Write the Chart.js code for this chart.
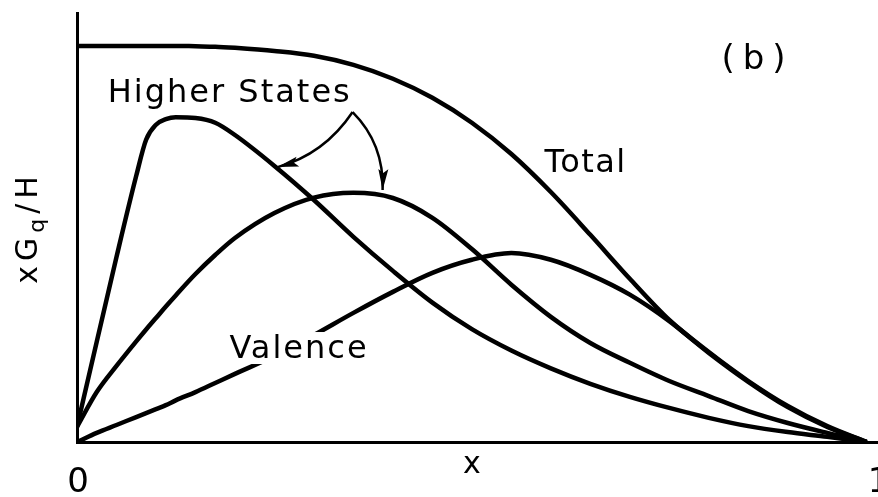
<!DOCTYPE html>
<html>
<head>
<meta charset="utf-8">
<script src="https://cdn.jsdelivr.net/npm/chart.js@4.4.0/dist/chart.umd.min.js"></script>
<style>
  html, body { margin: 0; padding: 0; background: #fff; }
</style>
</head>
<body>
<canvas id="chart_b" width="878" height="497"></canvas>
<script>
// x values shared by all curves (denser where Higher States peaks)
var xs = [0, 0.025, 0.05, 0.075, 0.0875, 0.1, 0.1125, 0.125, 0.15, 0.175, 0.2, 0.25, 0.3, 0.35,
          0.4, 0.45, 0.5, 0.55, 0.6, 0.65, 0.7, 0.75, 0.8, 0.85, 0.9, 0.95, 1.0];

var total    = [1.0, 1.0, 1.0, 1.0, 1.0, 1.0, 1.0, 1.0, 0.999, 0.998, 0.995, 0.987, 0.975, 0.952,
                0.917, 0.869, 0.806, 0.727, 0.631, 0.523, 0.412, 0.308, 0.227, 0.154, 0.091, 0.040, 0];
var higher_1 = [0.038, 0.253, 0.467, 0.672, 0.763, 0.801, 0.815, 0.820, 0.818, 0.806, 0.775, 0.697,
                0.611, 0.518, 0.432, 0.352, 0.285, 0.231, 0.186, 0.147, 0.114, 0.086, 0.061, 0.040,
                0.025, 0.013, 0];
var higher_2 = [0.038, 0.126, 0.192, 0.254, 0.284, 0.313, 0.342, 0.370, 0.424, 0.472, 0.515, 0.578,
                0.617, 0.629, 0.616, 0.566, 0.487, 0.397, 0.316, 0.250, 0.200, 0.154, 0.116, 0.078,
                0.048, 0.023, 0];
var valence  = [0, 0.023, 0.043, 0.063, 0.073, 0.083, 0.093, 0.105, 0.126, 0.149, 0.172, 0.217,
                0.270, 0.326, 0.379, 0.427, 0.460, 0.477, 0.460, 0.422, 0.372, 0.305, 0.225, 0.152,
                0.088, 0.038, 0];

var tick_values = [0, 1];
var tick_labels = ['0', '1'];
var x_title = 'x';

var FONT = '"DejaVu Sans", "Liberation Sans", sans-serif';

function points(ys) {
    var out = [];
    for (var i = 0; i < xs.length; i++) {
        out.push({x: xs[i], y: ys[i]});
    }
    return out;
}

function curve(ys) {
    return {
        data: points(ys),
        borderColor: '#000',
        borderWidth: 4.5,
        pointRadius: 0,
        fill: false,
        cubicInterpolationMode: 'monotone'
    };
}

// text and arrows placed in data units
var notes = [
    {text: 'Higher States', x: 0.039, y: 0.859, size: 32, spacing: 2},
    {text: 'Total',         x: 0.592, y: 0.682, size: 32, spacing: 1.5},
    {text: '(b)',           x: 0.816, y: 0.942, size: 34, spacing: 8},
    {text: 'Valence',       x: 0.193, y: 0.212, size: 32, spacing: 2, mask: true}
];

var arrows = [
    {from: [0.349, 0.833], ctrl: [0.313, 0.726], to: [0.254, 0.694]},
    {from: [0.349, 0.833], ctrl: [0.389, 0.753], to: [0.387, 0.636]}
];

var annotate = {
    id: 'annotate',
    afterDatasetsDraw: function(chart) {
        var ctx = chart.ctx;
        var sx = chart.scales.x, sy = chart.scales.y;
        ctx.save();
        ctx.fillStyle = '#000';
        ctx.textBaseline = 'alphabetic';

        // labels on the plot
        notes.forEach(function(n) {
            var px = sx.getPixelForValue(n.x), py = sy.getPixelForValue(n.y);
            ctx.font = n.size + 'px ' + FONT;
            ctx.letterSpacing = n.spacing + 'px';
            ctx.textAlign = 'left';
            if (n.mask) {
                var w = ctx.measureText(n.text).width;
                ctx.fillStyle = '#fff';
                ctx.fillRect(px - 3, py - 26, w + 4, 32);
                ctx.fillStyle = '#000';
            }
            ctx.fillText(n.text, px, py);
        });

        // curved pointers
        arrows.forEach(function(a) {
            var p0 = [sx.getPixelForValue(a.from[0]), sy.getPixelForValue(a.from[1])];
            var c  = [sx.getPixelForValue(a.ctrl[0]), sy.getPixelForValue(a.ctrl[1])];
            var p2 = [sx.getPixelForValue(a.to[0]),   sy.getPixelForValue(a.to[1])];
            ctx.strokeStyle = '#000';
            ctx.lineWidth = 2.5;
            ctx.beginPath();
            ctx.moveTo(p0[0], p0[1]);
            ctx.quadraticCurveTo(c[0], c[1], p2[0], p2[1]);
            ctx.stroke();
            var ang = Math.atan2(p2[1] - c[1], p2[0] - c[0]);
            var len = 21, half = 5;
            ctx.save();
            ctx.translate(p2[0], p2[1]);
            ctx.rotate(ang);
            ctx.beginPath();
            ctx.moveTo(0, 0);
            ctx.lineTo(-len, -half);
            ctx.lineTo(-len + 4, 0);
            ctx.lineTo(-len, half);
            ctx.closePath();
            ctx.fill();
            ctx.restore();
        });

        // tick labels under the x axis
        ctx.font = '34px ' + FONT;
        ctx.letterSpacing = '0px';
        var base = chart.chartArea.bottom + 50;
        tick_values.forEach(function(v, i) {
            var px = sx.getPixelForValue(v);
            var last = (i === tick_values.length - 1);
            ctx.textAlign = last ? 'left' : 'center';
            ctx.fillText(tick_labels[i], px + 1, base);
        });

        // x axis title
        ctx.font = '30px ' + FONT;
        ctx.textAlign = 'center';
        ctx.fillText(x_title, sx.getPixelForValue(0.5), chart.chartArea.bottom + 31);

        // rotated y axis title: x G_q / H
        var parts = [
            {t: 'xG', size: 30, shift: 0},
            {t: 'q',  size: 22, shift: 7},
            {t: '/H', size: 30, shift: 0}
        ];
        ctx.letterSpacing = '5px';
        var widths = parts.map(function(p) {
            ctx.font = p.size + 'px ' + FONT;
            return ctx.measureText(p.t).width;
        });
        var totalW = widths.reduce(function(s, w) { return s + w; }, 0);
        var midY = (chart.chartArea.top + chart.chartArea.bottom) / 2;
        ctx.translate(37, midY);
        ctx.rotate(-Math.PI / 2);
        ctx.textAlign = 'left';
        var cx = -totalW / 2;
        parts.forEach(function(p, i) {
            ctx.font = p.size + 'px ' + FONT;
            ctx.fillText(p.t, cx, p.shift);
            cx += widths[i];
        });
        ctx.restore();
    }
};

function init() {
    var ctx = document.getElementById('chart_b').getContext('2d');
    var chart = new Chart(ctx, {
        type: 'line',
        data: {
            datasets: [curve(total), curve(higher_1), curve(higher_2), curve(valence)]
        },
        options: {
            responsive: false,
            animation: false,
            layout: { padding: { left: 77, top: 13, right: 1, bottom: 55 } },
            plugins: {
                legend: { display: false },
                tooltip: { enabled: false }
            },
            scales: {
                x: {
                    type: 'linear',
                    min: 0,
                    max: 1.013,
                    grid: { display: false, drawTicks: false },
                    ticks: { display: false },
                    border: { display: true, color: '#000', width: 3 }
                },
                y: {
                    min: 0,
                    max: 1.083,
                    grid: { display: false, drawTicks: false },
                    ticks: { display: false },
                    border: { display: true, color: '#000', width: 3 }
                }
            }
        },
        plugins: [annotate]
    });
}

init();
</script>
</body>
</html>
